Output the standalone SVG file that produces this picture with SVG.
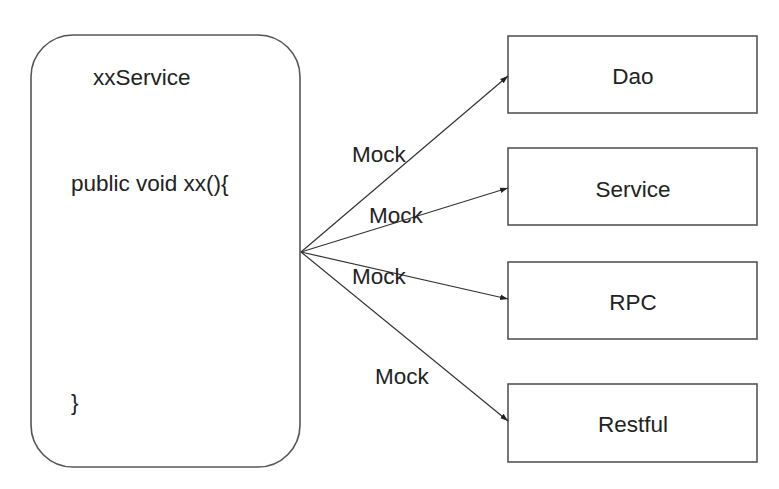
<svg xmlns="http://www.w3.org/2000/svg" width="779" height="489" viewBox="0 0 779 489">
<style>
.box{fill:#fff;stroke:#555;stroke-width:1.6}
.t{font-family:"Liberation Sans",Arial,sans-serif;font-size:22.5px;fill:#222}
.c{text-anchor:middle}
.e{stroke:#333;stroke-width:1.2;fill:none;marker-end:url(#ah)}
</style>
<defs>
<marker id="ah" viewBox="0 0 10 10" refX="10" refY="5" markerWidth="8" markerHeight="8" markerUnits="userSpaceOnUse" orient="auto">
<path d="M0,1.5 L10,5 L0,8.5 z" fill="#222"/>
</marker>
</defs>
<rect width="779" height="489" fill="#fff"/>
<g id="xxService">
<rect class="box" x="31" y="35" width="269" height="432" rx="42" ry="42"/>
<text class="t" x="93" y="85">xxService</text>
<text class="t" x="71" y="191">public void xx(){</text>
<text class="t" x="71" y="410">}</text>
</g>
<g id="dao">
<rect class="box" x="508" y="36" width="249" height="77"/>
<text class="t c" x="633" y="84">Dao</text>
</g>
<g id="service">
<rect class="box" x="508" y="148" width="249" height="77"/>
<text class="t c" x="633" y="197">Service</text>
</g>
<g id="rpc">
<rect class="box" x="508" y="262" width="249" height="77"/>
<text class="t c" x="633" y="310">RPC</text>
</g>
<g id="restful">
<rect class="box" x="508" y="384" width="249" height="78"/>
<text class="t c" x="633" y="432">Restful</text>
</g>
<g id="connectors">
<path class="e" d="M301,252 L508,76"/>
<path class="e" d="M301,252 L508,188"/>
<path class="e" d="M301,252 L508,299"/>
<path class="e" d="M301,252 L508,421"/>
<text class="t" x="352" y="162">Mock</text>
<text class="t" x="369" y="223">Mock</text>
<text class="t" x="352" y="284">Mock</text>
<text class="t" x="375" y="384">Mock</text>
</g>
</svg>
